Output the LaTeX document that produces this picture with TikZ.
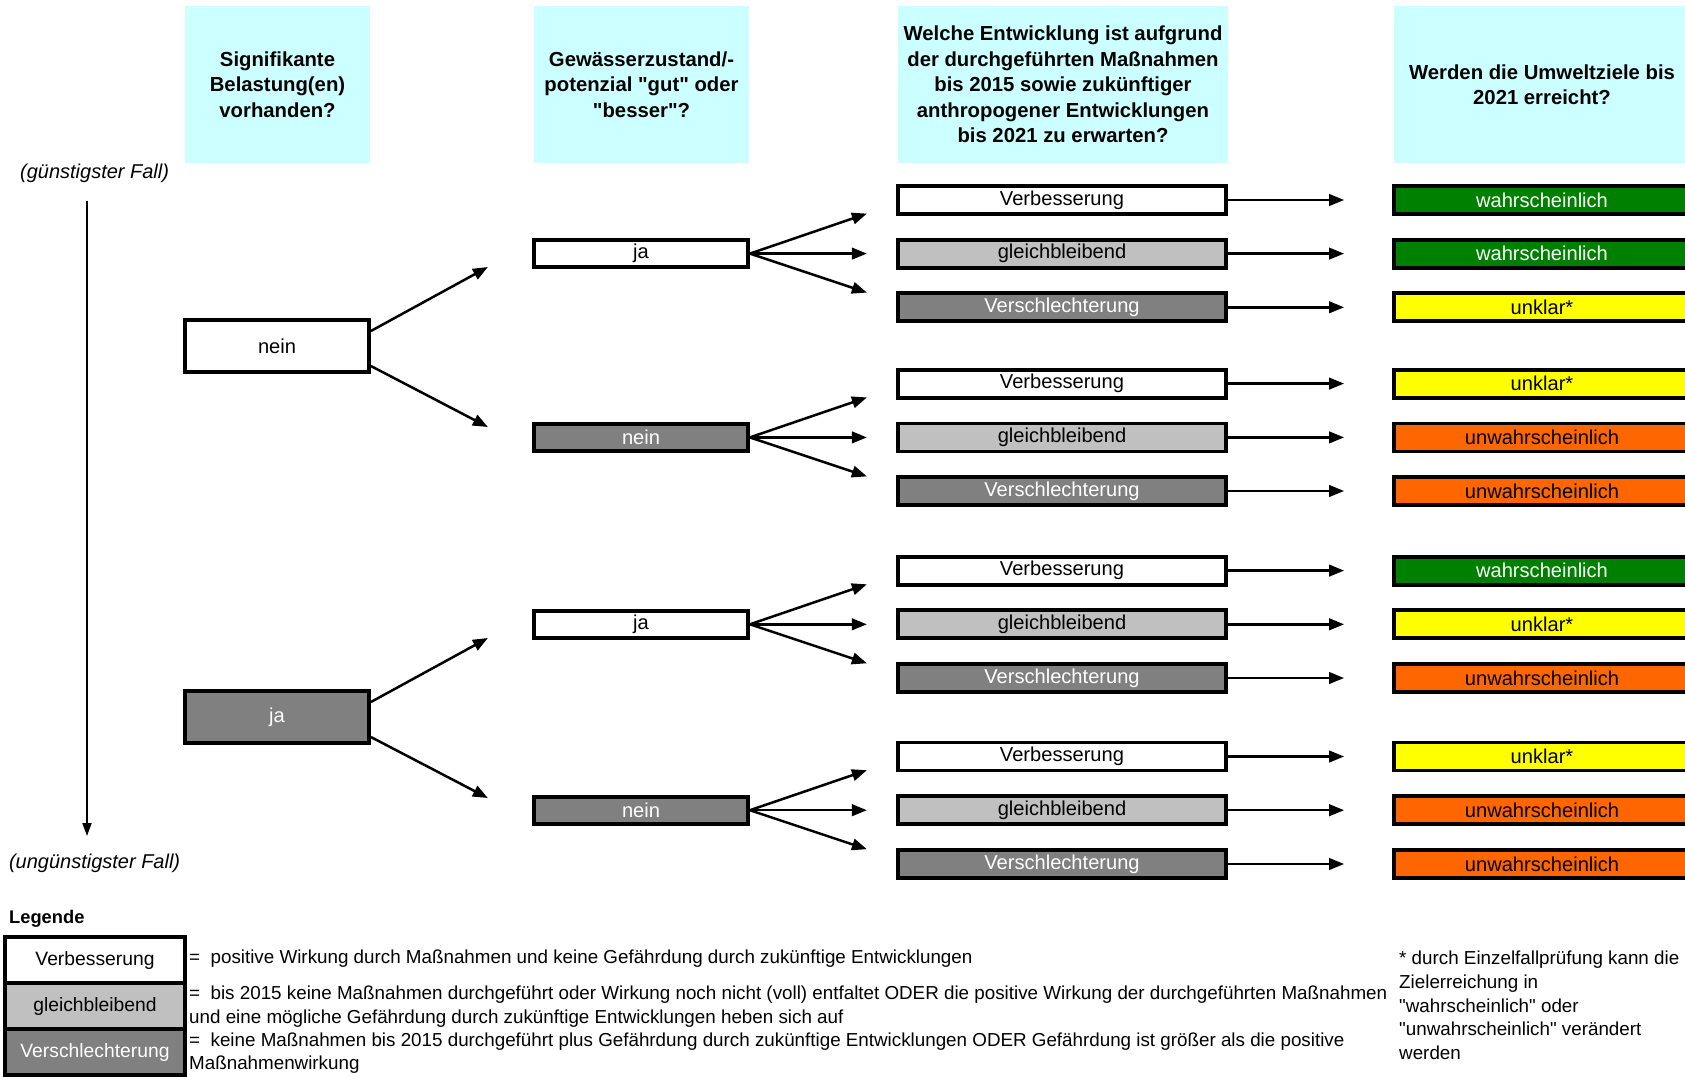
\documentclass[tikz,border=0pt]{standalone}
\usepackage{fontspec}
\setmainfont{Liberation Sans}
\usetikzlibrary{arrows.meta,calc}
\definecolor{hdrcyan}{HTML}{CCFFFF}
\definecolor{ltgray}{HTML}{C0C0C0}
\definecolor{dkgray}{HTML}{808080}
\definecolor{okgreen}{HTML}{008000}
\definecolor{warnyellow}{HTML}{FFFF00}
\definecolor{badorange}{HTML}{FF6600}
% straight double quote, taken as a glyph so no text mapping curls it
\newcommand{\sq}{\XeTeXglyph\XeTeXcharglyph"22\relax}

\tikzset{
  hdr/.style={fill=hdrcyan, inner sep=0pt, minimum height=157pt, align=center,
    font=\fontsize{20.3}{25.5}\selectfont\bfseries},
  box/.style={draw=black, line width=3.8pt, inner sep=0pt,
    font=\fontsize{20.1}{22}\selectfont},
  dbox/.style={box, minimum width=328pt, minimum height=28pt},
  rbox/.style={box, minimum width=296pt, minimum height=28pt},
  qbox/.style={box, minimum width=214pt, minimum height=27pt},
  pbox/.style={box, minimum width=184pt, minimum height=52pt},
  lbox/.style={box, minimum width=180pt, minimum height=46pt, font=\fontsize{19.3}{21}\selectfont},
  improve/.style={fill=white, text=black},
  steady/.style={fill=ltgray, text=black},
  worse/.style={fill=dkgray, text=white},
  likely/.style={fill=okgreen, text=white},
  unclear/.style={fill=warnyellow, text=black},
  unlikely/.style={fill=badorange, text=black},
  arr/.style={line width=2.5pt, -{Triangle[length=15pt,width=11.5pt]}},
  thinarr/.style={line width=1.8pt, -{Triangle[length=13pt,width=9pt]}},
  note/.style={inner sep=0pt, anchor=west, align=left, font=\fontsize{18.8}{23.7}\selectfont},
  casefall/.style={inner sep=0pt, font=\fontsize{20}{22}\selectfont\itshape},
}

\begin{document}
\begin{tikzpicture}[x=1pt, y=-1pt]
\path[use as bounding box] (0,0) rectangle (1685,1076);
\clip (0,0) rectangle (1685,1076);

% column headers
\node[hdr, minimum width=185pt] (h1) at (277.5,84.5) {Signifikante\\Belastung(en)\\vorhanden?};
\node[hdr, minimum width=215pt] (h2) at (641.5,84.5) {Gewässerzustand/-\\potenzial \sq gut\sq{} oder\\\sq besser\sq?};
\node[hdr, minimum width=330pt] (h3) at (1063,84.5) {Welche Entwicklung ist aufgrund\\der durchgeführten Maßnahmen\\bis 2015 sowie zukünftiger\\anthropogener Entwicklungen\\bis 2021 zu erwarten?};
\node[hdr, minimum width=296pt] (h4) at (1542,84.5) {Werden die Umweltziele bis\\2021 erreicht?};

% best/worst case axis
\node[casefall] (best) at (94.6,173) {(günstigster Fall)};
\node[casefall] (worst) at (94.6,863) {(ungünstigster Fall)};
\coordinate (vtop) at (87,201);
\coordinate (vbot) at (87,836);
\draw[thinarr] (vtop) -- (vbot);

% first decision: significant pressures
\node[pbox, improve] (p1) at (277,346) {nein};
\node[pbox, worse] (p2) at (277,717) {ja};

% second decision: status good or better
\node[qbox, improve] (q1) at (641,253.6) {ja};
\node[qbox, worse] (q2) at (641,437.4) {nein};
\node[qbox, improve] (q3) at (641,624.3) {ja};
\node[qbox, worse] (q4) at (641,810.2) {nein};

\foreach \p in {p1,p2}{
  \coordinate (\p-up) at ($(\p.east)+(117,-79)$);
  \coordinate (\p-dn) at ($(\p.east)+(117,81)$);
  \draw[arr] ($(\p.east)+(0,-15)$) -- (\p-up);
  \draw[arr] ($(\p.east)+(0,20)$) -- (\p-dn);
}

% expected development and goal attainment
\foreach \n/\y/\dst/\dlab/\rst/\rlab in {
  1/200/improve/Verbesserung/likely/wahrscheinlich,
  2/253.6/steady/gleichbleibend/likely/wahrscheinlich,
  3/307.3/worse/Verschlechterung/unclear/unklar*,
  4/383.6/improve/Verbesserung/unclear/unklar*,
  5/437.4/steady/gleichbleibend/unlikely/unwahrscheinlich,
  6/491/worse/Verschlechterung/unlikely/unwahrscheinlich,
  7/570.6/improve/Verbesserung/likely/wahrscheinlich,
  8/624.3/steady/gleichbleibend/unclear/unklar*,
  9/678/worse/Verschlechterung/unlikely/unwahrscheinlich,
  10/756.5/improve/Verbesserung/unclear/unklar*,
  11/810.2/steady/gleichbleibend/unlikely/unwahrscheinlich,
  12/864/worse/Verschlechterung/unlikely/unwahrscheinlich}{
  \node[dbox, \dst] (d\n) at (1062,\y) {\dlab};
  \node[rbox, \rst] (r\n) at (1542,\y) {\rlab};
  \draw[arr, shorten >=48pt] (d\n.east) -- (r\n.west);
}

% fan from each status box to its three developments
\foreach \q in {q1,q2,q3,q4}{
  \coordinate (\q-a) at ($(\q.east)+(117,-40)$);
  \coordinate (\q-b) at ($(\q.east)+(117,0)$);
  \coordinate (\q-c) at ($(\q.east)+(117,39)$);
  \draw[arr] (\q.east) -- (\q-a);
  \draw[arr] (\q.east) -- (\q-b);
  \draw[arr] (\q.east) -- (\q-c);
}

% legend
\node[inner sep=0pt, anchor=west, font=\fontsize{18.3}{21}\selectfont\bfseries] (leg) at (9,919) {Legende};
\node[lbox, improve] (l1) at (95,960) {Verbesserung};
\node[lbox, steady] (l2) at (95,1006) {gleichbleibend};
\node[lbox, worse] (l3) at (95,1052) {Verschlechterung};
\node[note] (t1) at (189,958.5) {= \ positive Wirkung durch Maßnahmen und keine Gefährdung durch zukünftige Entwicklungen};
\node[note] (t2) at (189,1006.5) {= \ bis 2015 keine Maßnahmen durchgeführt oder Wirkung noch nicht (voll) entfaltet ODER die positive Wirkung der durchgeführten Maßnahmen\\und eine mögliche Gefährdung durch zukünftige Entwicklungen heben sich auf};
\node[note] (t3) at (189,1053) {= \ keine Maßnahmen bis 2015 durchgeführt plus Gefährdung durch zukünftige Entwicklungen ODER Gefährdung ist größer als die positive\\Maßnahmenwirkung};
\node[note] (fn) at (1399,1005.5) {* durch Einzelfallprüfung kann die\\Zielerreichung in\\\sq wahrscheinlich\sq{} oder\\\sq unwahrscheinlich\sq{} verändert\\werden};
\end{tikzpicture}
\end{document}
